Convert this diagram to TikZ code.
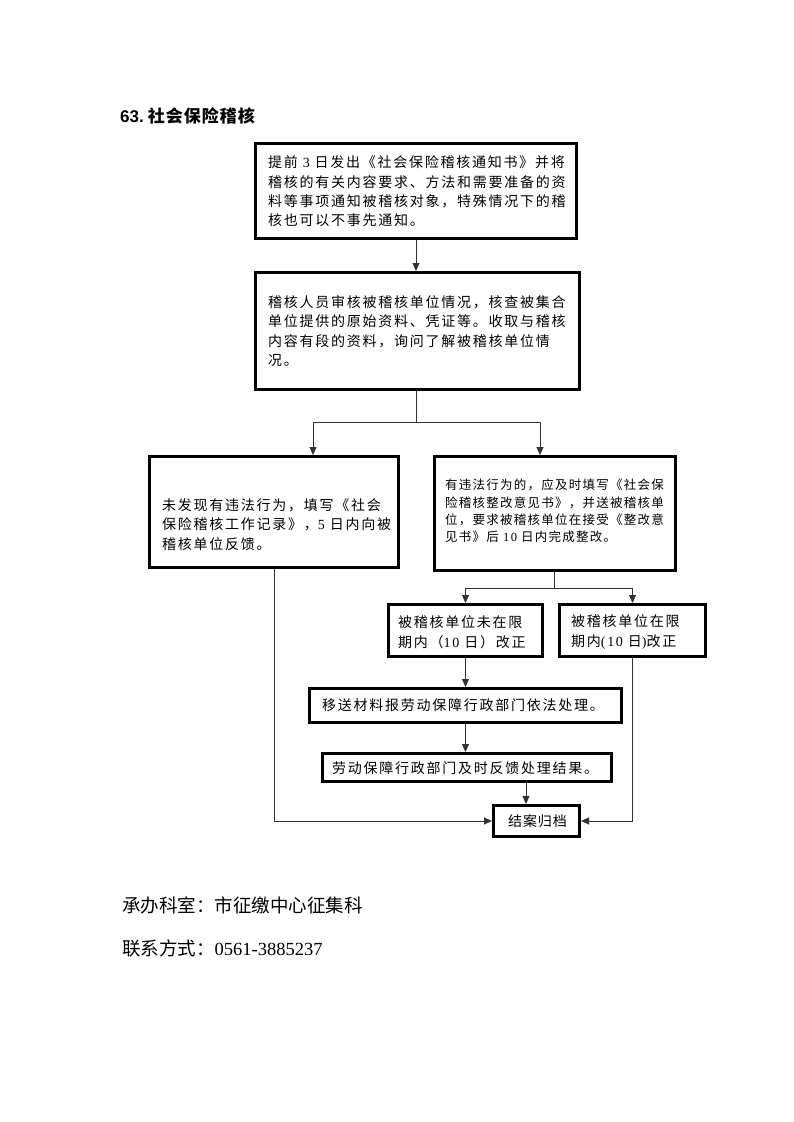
\documentclass[tikz,border=0pt]{standalone}
\usepackage{fontspec}
\usetikzlibrary{arrows.meta}
\newfontfamily\cjkA[LetterSpace=12.5]{Noto Sans CJK SC}
\newfontfamily\cjkB[LetterSpace=10]{Noto Sans CJK SC}
\newfontfamily\cjkC[LetterSpace=7]{Noto Sans CJK SC}
\newfontfamily\cjkT[LetterSpace=6]{Noto Sans CJK SC}
\newfontfamily\cjkF{Noto Sans CJK SC}
\newfontfamily\latT{Liberation Sans}
\newfontfamily\serD[LetterSpace=12]{Liberation Serif}
\newfontfamily\serF{Liberation Serif}
\newcommand\dg[1]{{\serD #1}}
\begin{document}
\begin{tikzpicture}[x=1pt,y=-1pt,
  box/.style={draw, line width=2.6pt, rectangle, inner sep=0pt},
  txt/.style={inner sep=0pt, anchor=west, align=left, font=\cjkA\fontsize{14}{19.3}\selectfont},
  txtsmall/.style={inner sep=0pt, anchor=west, align=left, font=\cjkB\fontsize{12.5}{17.3}\selectfont},
  foot/.style={inner sep=0pt, anchor=west, font=\cjkF\fontsize{18.5}{22}\selectfont},
  conn/.style={line width=0.9pt, draw=black!80},
  arr/.style={conn, -{Triangle[length=8pt,width=7pt]}}]
\fill[white] (0,0) rectangle (793,1122);
\useasboundingbox (0,0) rectangle (793,1122);

% title
\node[inner sep=0pt, anchor=west] (title) at (120,116) {{\latT\bfseries\fontsize{17}{20}\selectfont 63.}\hspace{4pt}{\cjkT\bfseries\fontsize{17}{20}\selectfont 社会保险稽核}};

% boxes
\node[box, minimum width=321.4pt, minimum height=95.4pt] (b1) at (416,191) {};
\node[box, minimum width=324.4pt, minimum height=117.4pt] (b2) at (417.5,331) {};
\node[box, minimum width=249.4pt, minimum height=111.4pt] (b3) at (274,512) {};
\node[box, minimum width=241.4pt, minimum height=114.4pt] (b4) at (555,513.5) {};
\node[box, minimum width=154.4pt, minimum height=52.4pt] (b5) at (465.5,630.5) {};
\node[box, minimum width=146.4pt, minimum height=52.4pt] (b6) at (632.5,630.5) {};
\node[box, minimum width=312.4pt, minimum height=34.4pt] (b7) at (465.5,705.5) {};
\node[box, minimum width=289.4pt, minimum height=28.4pt] (b8) at (467,767.5) {};
\node[box, minimum width=86.4pt, minimum height=31.4pt] (b9) at (536.5,821) {};

% texts
\node[txt] (t1) at (268,191.5) {提前 \dg{3} 日发出《社会保险稽核通知书》并将\\稽核的有关内容要求、方法和需要准备的资\\料等事项通知被稽核对象，特殊情况下的稽\\核也可以不事先通知。};
\node[txt] (t2) at (268,331) {稽核人员审核被稽核单位情况，核查被集合\\单位提供的原始资料、凭证等。收取与稽核\\内容有段的资料，询问了解被稽核单位情\\况。};
\node[txt] (t3) at (162,524.5) {未发现有违法行为，填写《社会\\保险稽核工作记录》，\dg{5} 日内向被\\稽核单位反馈。};
\node[txtsmall] (t4) at (445,511) {有违法行为的，应及时填写《社会保\\险稽核整改意见书》，并送被稽核单\\位，要求被稽核单位在接受《整改意\\见书》后 \dg{10} 日内完成整改。};
\node[txt, font=\cjkA\fontsize{14}{20}\selectfont] (t5) at (398,632) {被稽核单位未在限\\期内（\dg{10} 日）改正};
\node[txt, font=\cjkA\fontsize{14}{20}\selectfont] (t6) at (571,632) {被稽核单位在限\\期内\dg{(10} 日\dg{)}改正};
\node[txt] (t7) at (322,705) {移送材料报劳动保障行政部门依法处理。};
\node[txt] (t8) at (332,768) {劳动保障行政部门及时反馈处理结果。};
\node[txt, anchor=center, font=\cjkC\fontsize{14}{16}\selectfont] (t9) at (537.5,821) {结案归档};

% footer
\node[foot] (f1) at (122,905) {承办科室：市征缴中心征集科};
\node[foot] (f2) at (122,948) {联系方式：{\serF 0561-3885237}};

% connectors
\draw[arr] (b1.south) -- (b1.south |- b2.north);
\coordinate (j1) at (416,422);
\coordinate (j1l) at (313,422);
\coordinate (j1r) at (540,422);
\draw[conn] (j1 |- b2.south) -- (j1);
\draw[conn] (j1l) -- (j1r);
\draw[arr] (j1l) -- (j1l |- b3.north);
\draw[arr] (j1r) -- (j1r |- b4.north);
\coordinate (j2) at (554,588);
\coordinate (j2l) at (465.5,588);
\coordinate (j2r) at (632.5,588);
\draw[conn] (j2 |- b4.south) -- (j2);
\draw[conn] (j2l) -- (j2r);
\draw[arr] (j2l) -- (b5.north);
\draw[arr] (j2r) -- (b6.north);
\draw[arr] (b5.south) -- (b5.south |- b7.north);
\draw[arr] (b7.south) -- (b7.south |- b8.north);
\coordinate (j3) at (526,800);
\draw[arr] (j3 |- b8.south) -- (j3 |- b9.north);
\draw[arr] (b3.south) |- (b9.west);
\draw[arr] (b6.south) |- (b9.east);
\end{tikzpicture}
\end{document}
